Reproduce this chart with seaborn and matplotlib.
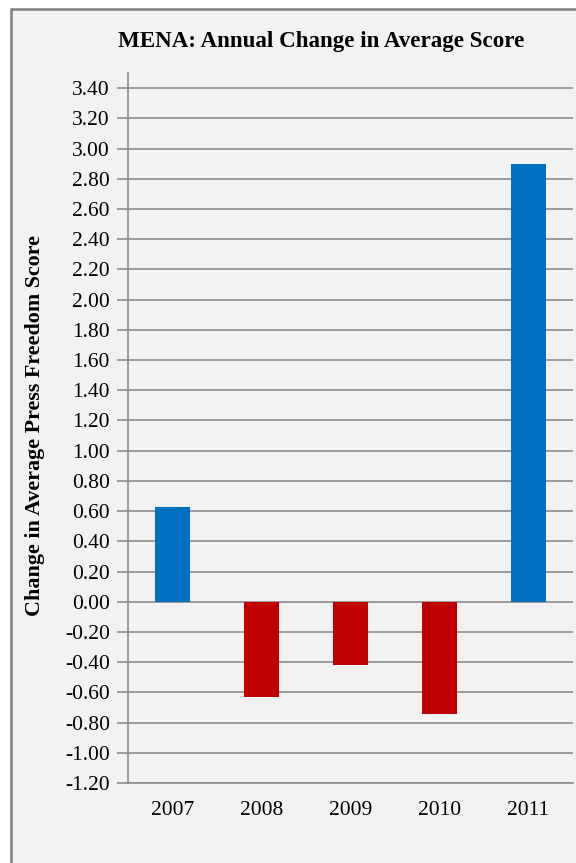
import matplotlib
matplotlib.use("Agg")
import matplotlib.pyplot as plt
import seaborn as sns
import pandas as pd
from matplotlib.patches import Rectangle

years = ["2007", "2008", "2009", "2010", "2011"]
changes = [0.63, -0.63, -0.42, -0.74, 2.90]
bar_colors = ["#0070C0", "#C00000", "#C00000", "#C00000", "#0070C0"]
y_ticks = [round(-1.2 + 0.2 * i, 2) for i in range(24)]
title = "MENA: Annual Change in Average Score"
ylabel = "Change in Average Press Freedom Score"

sns.set_theme(style="white")
plt.rcParams["font.family"] = ["Liberation Serif", "DejaVu Serif"]
plt.rcParams["text.color"] = "black"
plt.rcParams["xtick.color"] = "black"
plt.rcParams["ytick.color"] = "black"

df = pd.DataFrame({"year": years, "change": changes})

fig = plt.figure(figsize=(5.76, 8.63), dpi=100)
fig.patch.set_facecolor("white")
# chart area background with border
fig.patches.append(Rectangle((11 / 576, -0.1), 1.2, 1.1 - 9 / 863,
                             transform=fig.transFigure, facecolor="#F2F2F2",
                             edgecolor="#7F7F7F", linewidth=1.8, zorder=-10))

ax = fig.add_axes([128 / 576, 80 / 863, 445 / 576, 710 / 863])
ax.set_facecolor("#F2F2F2")

sns.barplot(data=df, x="year", y="change", hue="year", palette=bar_colors,
            legend=False, width=0.39, ax=ax, saturation=1, edgecolor="none")

ax.set_xlim(-0.5, 4.5)
ax.set_ylim(-1.2, 3.5)
ax.set_yticks(y_ticks)
ax.set_yticklabels([f"{v:.2f}" for v in y_ticks], fontsize=15.5)
ax.tick_params(axis="y", length=8, width=1.2, color="#8C8C8C", pad=5,
               left=True, labelcolor="black")
ax.tick_params(axis="x", length=0, pad=13, labelsize=15.5, labelcolor="black")
ax.grid(axis="y", color="#8C8C8C", linewidth=1.2)
ax.set_axisbelow(True)
for s in ["top", "right"]:
    ax.spines[s].set_visible(False)
for s in ["left", "bottom"]:
    ax.spines[s].set_color("#8C8C8C")
    ax.spines[s].set_linewidth(1.2)
ax.set_xlabel("")
ax.set_ylabel("")

fig.text(321 / 576, 1 - 42 / 863, title, ha="center", va="center",
         fontsize=16.6, fontweight="bold", color="black")
fig.text(35 / 576, 1 - 425 / 863, ylabel, ha="center", va="center",
         rotation=90, fontsize=15.8, fontweight="bold", color="black")

fig.savefig("out.png", dpi=100, facecolor=fig.get_facecolor())
